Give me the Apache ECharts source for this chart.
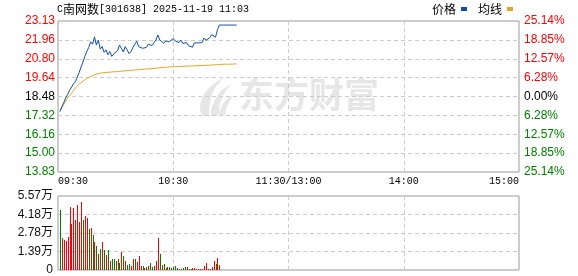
<!DOCTYPE html>
<html>
<head>
<meta charset="utf-8">
<script src="https://cdn.jsdelivr.net/npm/echarts@6/dist/echarts.min.js"></script>
<style>
  html, body { margin: 0; padding: 0; background: #ffffff; }
  #chart { width: 578px; height: 276px; }
</style>
</head>
<body>
<div id="chart"></div>
<script>
// Intraday session: 240 trading minutes, ticks every hour
const timeTickLabels = ['09:30', '10:30', '11:30/13:00', '14:00', '15:00'];
// Price axis (bottom to top) and matching change-from-close labels
const priceTickLabels = ['13.83', '15.00', '16.16', '17.32', '18.48', '19.64', '20.80', '21.96', '23.13'];
const pctTickLabels = ['25.14%', '18.85%', '12.57%', '6.28%', '0.00%', '6.28%', '12.57%', '18.85%', '25.14%'];
const volumeTickLabels = ['0', '1.39万', '2.78万', '4.18万', '5.57万'];

// Last price per minute, starting at 09:31
const priceValues = [
  17.55, 17.85, 18.10, 18.40, 18.60, 18.85, 18.95, 19.25, 19.38, 19.45,
  19.95, 20.30, 20.60, 20.95, 21.25, 21.50, 21.85, 21.70, 22.15, 21.65,
  21.95, 21.40, 21.55, 21.20, 21.35, 21.05, 21.25, 20.95, 21.10, 21.02,
  21.30, 21.65, 21.45, 21.22, 21.55, 21.35, 21.12, 21.25, 21.50, 21.70,
  21.88, 21.55, 21.60, 21.45, 21.55, 21.50, 21.70, 21.78, 21.62, 21.80,
  21.96, 22.27, 21.96, 22.02, 21.76, 21.90, 21.96, 21.86, 21.95, 22.05,
  21.90, 21.96, 21.80, 21.95, 21.75, 21.67, 21.80, 21.60, 21.58, 21.52,
  21.78, 21.76, 21.78, 21.78, 21.80, 22.08, 21.95, 21.88, 22.10, 22.29,
  22.20, 22.13, 22.59, 22.88, 22.88, 22.88, 22.88, 22.88, 22.88, 22.88,
  22.88, 22.88, 22.88
];

// Average price per minute, starting at 09:31
const avgValues = [
  17.58, 17.78, 17.98, 18.20, 18.38, 18.53, 18.68, 18.84, 19.00, 19.12,
  19.23, 19.33, 19.42, 19.52, 19.60, 19.66, 19.72, 19.77, 19.82, 19.86,
  19.89, 19.92, 19.94, 19.95, 19.96, 19.97, 19.98, 19.99, 20.00, 20.00,
  20.01, 20.02, 20.04, 20.05, 20.06, 20.07, 20.08, 20.10, 20.11, 20.11,
  20.12, 20.13, 20.14, 20.15, 20.16, 20.17, 20.18, 20.19, 20.20, 20.21,
  20.22, 20.23, 20.25, 20.26, 20.27, 20.28, 20.29, 20.30, 20.31, 20.31,
  20.32, 20.33, 20.33, 20.34, 20.34, 20.35, 20.35, 20.36, 20.36, 20.37,
  20.37, 20.38, 20.38, 20.39, 20.39, 20.40, 20.40, 20.41, 20.41, 20.42,
  20.43, 20.43, 20.44, 20.45, 20.46, 20.46, 20.47, 20.47, 20.47, 20.48,
  20.48, 20.48, 20.48
];

// Volume per minute in 万 shares, starting at 09:31
const volumeValues = [
  4.52, 2.39, 2.26, 2.18, 2.46, 4.72, 3.46, 4.69, 3.76, 4.89,
  3.60, 5.14, 3.76, 4.10, 3.90, 3.10, 3.15, 2.60, 2.10, 1.80,
  1.20, 1.55, 2.10, 1.50, 1.15, 1.50, 0.70, 0.80, 0.85, 0.68,
  0.80, 0.50, 1.38, 1.05, 0.68, 0.38, 0.43, 0.30, 0.83, 0.83,
  0.60, 1.05, 0.30, 0.30, 0.13, 0.25, 0.30, 0.50, 0.20, 0.30,
  0.68, 2.40, 1.20, 0.38, 0.43, 0.13, 0.25, 0.25, 0.12, 0.20,
  0.30, 0.17, 0.10, 0.10, 0.15, 0.20, 0.25, 0.10, 0.10, 0.13,
  0.17, 0.10, 0.10, 0.10, 0.10, 0.30, 0.50, 0.10, 0.10, 0.25,
  0.70, 0.45, 0.88, 0.38
];
// 1 = traded up, -1 = traded down
const volumeSide = [
  -1, 1, 1, 1, 1, 1, 1, 1, 1, 1,
  1, 1, -1, 1, 1, -1, 1, -1, 1, -1,
  1, -1, 1, -1, 1, -1, 1, -1, -1, 1,
  -1, -1, 1, -1, 1, -1, -1, 1, 1, -1,
  1, 1, 1, -1, 1, -1, 1, -1, -1, 1,
  1, 1, -1, 1, -1, 1, -1, -1, 1, -1,
  -1, -1, 1, -1, -1, -1, 1, -1, -1, 1,
  1, 1, -1, 1, 1, 1, 1, 1, 1, 1,
  1, -1, 1, 1
];

const BLUE = '#1050a6';
const GOLD = '#e0a62a';
const UP = '#ff0000';
const DOWN = '#008000';
const WATERMARK = '#e6e6e6';
const GRID_LINE = { color: '#cccccc', width: 1, type: [4, 3] };
const NUM_FONT = "'Liberation Sans', 'Noto Sans CJK SC', sans-serif";
const MONO_FONT = "'Liberation Mono', monospace";
const CJK_FONT = "'Noto Sans CJK SC', sans-serif";

const priceData = priceValues.map((v, i) => [i + 1, v]);
const avgData = avgValues.map((v, i) => [i + 1, v]);
const volumeData = volumeValues.map((v, i) => [i + 1, v, volumeSide[i]]);

function sideColor(index) {
  if (index < 4) return DOWN;
  if (index > 4) return UP;
  return '#000000';
}

// One-pixel volume bar snapped to the pixel grid so it stays crisp
function renderVolumeBar(params, api) {
  const top = api.coord([api.value(0), api.value(1)]);
  const base = api.coord([api.value(0), 0]);
  const x = Math.round(top[0]);
  const y = Math.round(top[1]);
  return {
    type: 'rect',
    shape: { x: x, y: y, width: 1, height: Math.round(base[1]) - y },
    style: { fill: api.value(2) > 0 ? UP : DOWN }
  };
}

const hiddenAxisParts = {
  axisLine: { show: false },
  axisTick: { show: false }
};

// Brand mark drawn behind the plot: three slanted feather strokes
const featherStrokes = [
  [[3, 37], [1, 28], [4, 18], [11, 9], [24, 0], [16, 10], [12, 20], [10, 30], [10, 37]],
  [[12, 37], [13, 29], [17, 20], [23, 12], [31, 7], [25, 16], [21, 25], [19, 37]],
  [[20, 37], [22, 30], [26, 23], [33, 18], [30, 25], [27, 31], [26, 37]]
];

const chart = echarts.init(document.getElementById('chart'), null, { renderer: 'canvas' });

chart.setOption({
  animation: false,
  backgroundColor: '#ffffff',
  title: {
    left: 57,
    top: 3,
    padding: 0,
    text: '{m|C}{c|南网数}{m|[301638] 2025-11-19 11:03}',
    textStyle: {
      fontWeight: 'normal',
      rich: {
        m: { fontFamily: MONO_FONT, fontSize: 10, fontWeight: 'normal', color: '#000000', lineHeight: 13 },
        c: { fontFamily: CJK_FONT, fontSize: 12, fontWeight: 'normal', color: '#000000', lineHeight: 13 }
      }
    }
  },
  legend: {
    right: 65,
    top: 3,
    padding: 0,
    align: 'right',
    icon: 'rect',
    itemWidth: 6,
    itemHeight: 4,
    itemGap: 11,
    selectedMode: false,
    data: ['价格', '均线'],
    textStyle: { fontFamily: CJK_FONT, fontSize: 12, color: '#000000', padding: 0 }
  },
  graphic: [
    {
      type: 'group',
      left: 200,
      top: 78,
      z: 0,
      silent: true,
      children: featherStrokes.map(points => ({
        type: 'polygon',
        shape: { points: points, smooth: 0.3 },
        style: { fill: WATERMARK }
      }))
    },
    {
      type: 'text',
      left: 239,
      top: 77,
      z: 0,
      silent: true,
      style: {
        text: '东方财富',
        fontFamily: CJK_FONT,
        fontWeight: 'bold',
        fontSize: 35,
        fill: WATERMARK
      }
    }
  ],
  grid: [
    { left: 58, top: 21, width: 461, height: 151, show: true, borderColor: '#999999', borderWidth: 1, backgroundColor: 'transparent' },
    { left: 58, top: 196, width: 461, height: 74, show: true, borderColor: '#999999', borderWidth: 1, backgroundColor: 'transparent' }
  ],
  xAxis: [
    {
      gridIndex: 0,
      type: 'value',
      min: 0,
      max: 240,
      interval: 60,
      ...hiddenAxisParts,
      axisLabel: {
        show: true,
        margin: 4,
        fontFamily: MONO_FONT,
        fontSize: 10,
        color: '#000000',
        showMinLabel: true,
        showMaxLabel: true,
        alignMinLabel: 'left',
        alignMaxLabel: 'right',
        formatter: (value, index) => timeTickLabels[index]
      },
      splitLine: { show: true, lineStyle: GRID_LINE, showMinLine: false, showMaxLine: false }
    },
    {
      gridIndex: 1,
      type: 'value',
      min: 0,
      max: 240,
      interval: 60,
      ...hiddenAxisParts,
      axisLabel: { show: false },
      splitLine: { show: true, lineStyle: GRID_LINE, showMinLine: false, showMaxLine: false }
    }
  ],
  yAxis: [
    {
      gridIndex: 0,
      type: 'value',
      min: 13.83,
      max: 23.13,
      interval: 1.1625,
      ...hiddenAxisParts,
      axisLabel: {
        margin: 3,
        fontFamily: NUM_FONT,
        fontSize: 12,
        showMinLabel: true,
        showMaxLabel: true,
        formatter: (value, index) => priceTickLabels[index],
        color: (value, index) => sideColor(index)
      },
      splitLine: { show: true, lineStyle: GRID_LINE, showMinLine: false, showMaxLine: false }
    },
    {
      gridIndex: 0,
      type: 'value',
      position: 'right',
      min: 13.83,
      max: 23.13,
      interval: 1.1625,
      ...hiddenAxisParts,
      axisLabel: {
        margin: 5,
        fontFamily: NUM_FONT,
        fontSize: 12,
        showMinLabel: true,
        showMaxLabel: true,
        formatter: (value, index) => pctTickLabels[index],
        color: (value, index) => sideColor(index)
      },
      splitLine: { show: false }
    },
    {
      gridIndex: 1,
      type: 'value',
      min: 0,
      max: 5.57,
      interval: 1.3925,
      ...hiddenAxisParts,
      axisLabel: {
        margin: 5,
        fontFamily: NUM_FONT,
        fontSize: 12,
        color: '#111111',
        showMinLabel: true,
        showMaxLabel: true,
        formatter: (value, index) => volumeTickLabels[index]
      },
      splitLine: { show: true, lineStyle: GRID_LINE, showMinLine: false, showMaxLine: false }
    }
  ],
  series: [
    {
      name: '价格',
      type: 'line',
      xAxisIndex: 0,
      yAxisIndex: 0,
      data: priceData,
      symbol: 'none',
      color: BLUE,
      lineStyle: { color: BLUE, width: 1 },
      z: 4
    },
    {
      name: '均线',
      type: 'line',
      xAxisIndex: 0,
      yAxisIndex: 0,
      data: avgData,
      symbol: 'none',
      color: GOLD,
      lineStyle: { color: GOLD, width: 1 },
      z: 3
    },
    {
      name: '成交量',
      type: 'custom',
      xAxisIndex: 1,
      yAxisIndex: 2,
      data: volumeData,
      encode: { x: 0, y: 1 },
      renderItem: renderVolumeBar,
      z: 3
    }
  ]
});
</script>
</body>
</html>
